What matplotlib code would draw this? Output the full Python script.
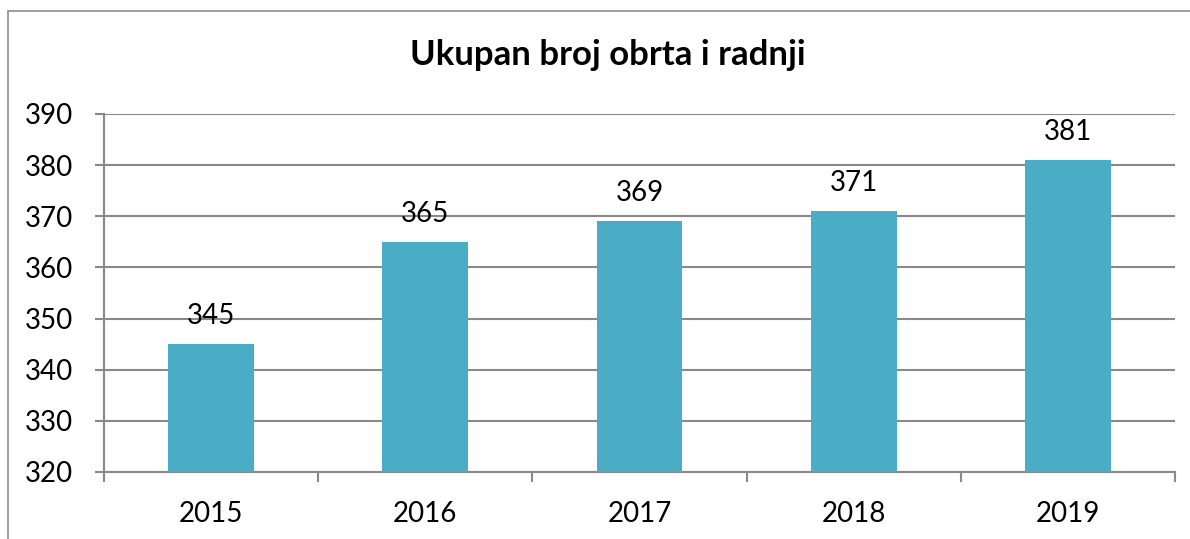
import matplotlib.pyplot as plt
from matplotlib.patches import Rectangle

years = ["2015", "2016", "2017", "2018", "2019"]
counts = [345, 365, 369, 371, 381]
y_ticks = [320, 330, 340, 350, 360, 370, 380, 390]

BAR_COLOR = "#4BACC6"
GRID_COLOR = "#898989"

plt.rcParams["font.family"] = ["Lato", "DejaVu Sans"]

fig = plt.figure(figsize=(11.9, 5.39), dpi=100)
ax = fig.add_axes([104 / 1190, 1 - 472 / 539, (1175 - 104) / 1190, (472 - 114) / 539])

# chart area border (only top/left visible in the crop)
fig.patches.append(
    Rectangle((8 / 1190, -0.1), 1.2, 1 - 11 / 539 + 0.1, transform=fig.transFigure,
              fill=False, edgecolor="#8c8c8c", linewidth=1.2)
)

x = range(len(years))
ax.bar(x, [c - y_ticks[0] for c in counts], bottom=y_ticks[0], width=0.4,
       color=BAR_COLOR, zorder=3)
for i, c in zip(x, counts):
    ax.annotate(str(c), (i, c), xytext=(0, 11), textcoords="offset points",
                ha="center", va="bottom", fontsize=20)

ax.set_xlim(-0.5, len(years) - 0.5)
ax.set_ylim(y_ticks[0], y_ticks[-1])
ax.set_yticks(y_ticks)
ax.set_xticks(list(x))
ax.set_xticklabels(years)
ax.set_xticks([i - 0.5 for i in range(len(years) + 1)], minor=True)
ax.tick_params(axis="y", length=6.5, width=1.5, color=GRID_COLOR, labelsize=20, pad=16)
ax.tick_params(axis="x", which="major", length=0, labelsize=20, pad=21)
ax.tick_params(axis="x", which="minor", length=7, width=1.5, color=GRID_COLOR)
ax.grid(axis="y", color=GRID_COLOR, linewidth=1.5, zorder=0)
for side in ("top", "right"):
    ax.spines[side].set_visible(False)
for side in ("left", "bottom"):
    ax.spines[side].set_color(GRID_COLOR)
    ax.spines[side].set_linewidth(1.5)

fig.text(608 / 1190, 1 - 55 / 539, "Ukupan broj obrta i radnji", ha="center", va="center",
         fontsize=25, fontweight="bold")

fig.savefig("out.png", dpi=100)
